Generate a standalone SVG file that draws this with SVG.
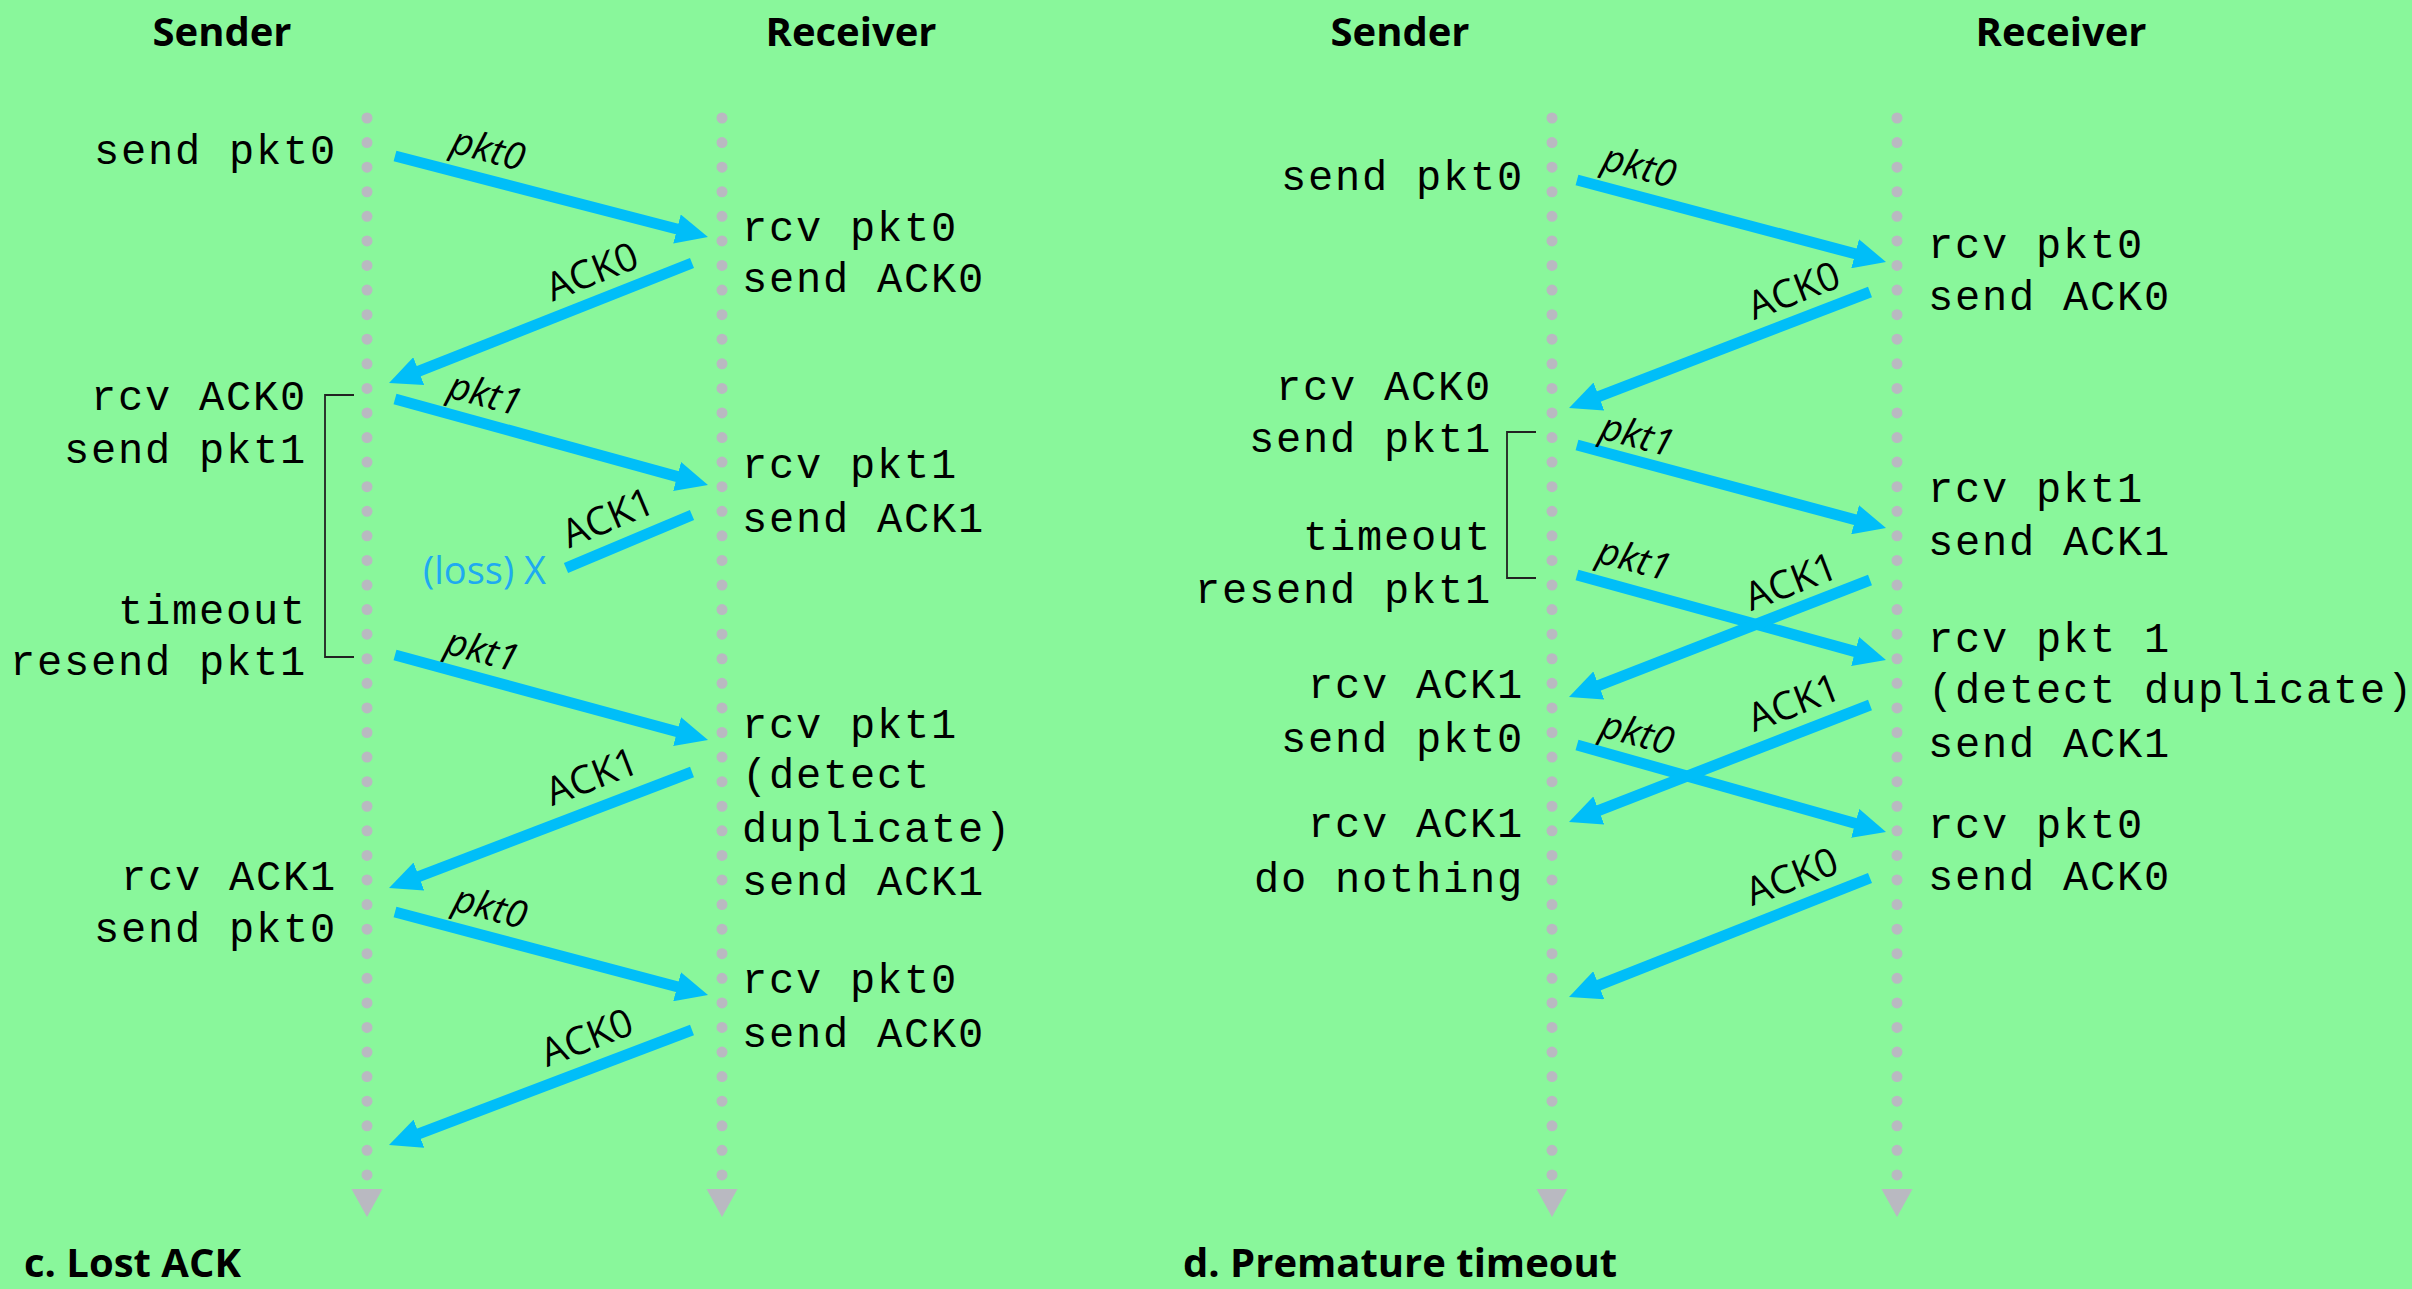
<svg xmlns="http://www.w3.org/2000/svg" width="2412" height="1289" viewBox="0 0 2412 1289">
<defs>
<style>
.bg{fill:#89f79b}
.life{stroke:#b9b9c1;stroke-width:11;stroke-linecap:round;stroke-dasharray:0 24.58;fill:none}
.lhead{fill:#b9b9c1}
.hdr{font-family:"Open Sans","Noto Sans",sans-serif;font-weight:bold;font-size:40px;fill:#000;text-anchor:middle}
.cap{font-family:"Open Sans","Noto Sans",sans-serif;font-weight:bold;font-size:40px;fill:#000}
.mono{font-family:"Liberation Mono","DejaVu Sans Mono",monospace;font-size:42px;letter-spacing:1.8px;fill:#000}
.end{text-anchor:end}
.msg{stroke:#00bef8;stroke-width:11;fill:none}
.pkt{font-family:"Open Sans","Noto Sans",sans-serif;font-style:italic;font-size:38px;fill:#000;text-anchor:middle}
.ack{font-family:"Open Sans","Noto Sans",sans-serif;font-size:39px;fill:#000;text-anchor:middle}
.loss{font-family:"Open Sans","Noto Sans",sans-serif;font-size:38px;fill:#1eaaf0}
.brk{stroke:#222;stroke-width:1.8;fill:none}
</style>
<marker id="ah" markerUnits="userSpaceOnUse" markerWidth="32" markerHeight="30" viewBox="0 0 32 30" refX="6" refY="15" orient="auto">
<path d="M0,0 L32,15 L0,30 Z" fill="#00bef8"/>
</marker>
</defs>
<rect class="bg" x="0" y="0" width="2412" height="1289"/>

<g id="lifelines">
<g id="c-sender-line"><line class="life" x1="367" y1="118" x2="367" y2="1176"/><path class="lhead" d="M351.5,1189 L382.5,1189 L367,1217 Z"/></g>
<g id="c-receiver-line"><line class="life" x1="722" y1="118" x2="722" y2="1176"/><path class="lhead" d="M706.5,1189 L737.5,1189 L722,1217 Z"/></g>
<g id="d-sender-line"><line class="life" x1="1552" y1="118" x2="1552" y2="1176"/><path class="lhead" d="M1536.5,1189 L1567.5,1189 L1552,1217 Z"/></g>
<g id="d-receiver-line"><line class="life" x1="1897" y1="118" x2="1897" y2="1176"/><path class="lhead" d="M1881.5,1189 L1912.5,1189 L1897,1217 Z"/></g>
</g>

<g id="headers">
<g id="c-sender-hdr"><text class="hdr" x="222" y="46">Sender</text></g>
<g id="c-receiver-hdr"><text class="hdr" x="851" y="46">Receiver</text></g>
<g id="d-sender-hdr"><text class="hdr" x="1400" y="46">Sender</text></g>
<g id="d-receiver-hdr"><text class="hdr" x="2061" y="46">Receiver</text></g>
</g>

<g id="c-sender-events">
<text class="mono end" x="337" y="164">send pkt0</text>
<text class="mono end" x="307" y="410">rcv ACK0</text>
<text class="mono end" x="307" y="463">send pkt1</text>
<text class="mono end" x="307" y="624">timeout</text>
<text class="mono end" x="307" y="675">resend pkt1</text>
<text class="mono end" x="337" y="890">rcv ACK1</text>
<text class="mono end" x="337" y="942">send pkt0</text>
</g>
<g id="c-timer-bracket"><path class="brk" d="M354,395 H325 V657 H354"/></g>

<g id="c-receiver-events">
<text class="mono" x="742" y="241">rcv pkt0</text>
<text class="mono" x="742" y="292">send ACK0</text>
<text class="mono" x="742" y="478">rcv pkt1</text>
<text class="mono" x="742" y="532">send ACK1</text>
<text class="mono" x="742" y="738">rcv pkt1</text>
<text class="mono" x="742" y="788">(detect</text>
<text class="mono" x="742" y="842">duplicate)</text>
<text class="mono" x="742" y="895">send ACK1</text>
<text class="mono" x="742" y="993">rcv pkt0</text>
<text class="mono" x="742" y="1047">send ACK0</text>
</g>

<g id="d-sender-events">
<text class="mono end" x="1524" y="190">send pkt0</text>
<text class="mono end" x="1492" y="400">rcv ACK0</text>
<text class="mono end" x="1492" y="452">send pkt1</text>
<text class="mono end" x="1492" y="550">timeout</text>
<text class="mono end" x="1492" y="603">resend pkt1</text>
<text class="mono end" x="1524" y="698">rcv ACK1</text>
<text class="mono end" x="1524" y="752">send pkt0</text>
<text class="mono end" x="1524" y="837">rcv ACK1</text>
<text class="mono end" x="1524" y="892">do nothing</text>
</g>
<g id="d-timer-bracket"><path class="brk" d="M1536,432 H1507 V578 H1536"/></g>

<g id="d-receiver-events">
<text class="mono" x="1928" y="258">rcv pkt0</text>
<text class="mono" x="1928" y="310">send ACK0</text>
<text class="mono" x="1928" y="502">rcv pkt1</text>
<text class="mono" x="1928" y="555">send ACK1</text>
<text class="mono" x="1928" y="652">rcv pkt 1</text>
<text class="mono" x="1928" y="703">(detect duplicate)</text>
<text class="mono" x="1928" y="757">send ACK1</text>
<text class="mono" x="1928" y="838">rcv pkt0</text>
<text class="mono" x="1928" y="890">send ACK0</text>
</g>

<g id="connectors">
<line class="msg" x1="395" y1="156" x2="682.8" y2="230.5" marker-end="url(#ah)"/>
<line class="msg" x1="692" y1="263" x2="413.2" y2="373.4" marker-end="url(#ah)"/>
<line class="msg" x1="395" y1="399" x2="682.9" y2="478.1" marker-end="url(#ah)"/>
<line class="msg" x1="692" y1="515" x2="566" y2="568"/>
<line class="msg" x1="395" y1="655" x2="682.9" y2="733.2" marker-end="url(#ah)"/>
<line class="msg" x1="692" y1="772" x2="413.3" y2="878.7" marker-end="url(#ah)"/>
<line class="msg" x1="395" y1="912" x2="682.9" y2="988.3" marker-end="url(#ah)"/>
<line class="msg" x1="692" y1="1030" x2="413.3" y2="1135.8" marker-end="url(#ah)"/>

<line class="msg" x1="1577" y1="180" x2="1860.9" y2="255.3" marker-end="url(#ah)"/>
<line class="msg" x1="1870" y1="292" x2="1593.3" y2="398.7" marker-end="url(#ah)"/>
<line class="msg" x1="1577" y1="445" x2="1860.9" y2="521.3" marker-end="url(#ah)"/>
<line class="msg" x1="1577" y1="575" x2="1860.9" y2="653.1" marker-end="url(#ah)"/>
<line class="msg" x1="1870" y1="580" x2="1593.2" y2="687.6" marker-end="url(#ah)"/>
<line class="msg" x1="1577" y1="745" x2="1861" y2="825" marker-end="url(#ah)"/>
<line class="msg" x1="1870" y1="705" x2="1593.2" y2="812.6" marker-end="url(#ah)"/>
<line class="msg" x1="1870" y1="878" x2="1593.2" y2="987.4" marker-end="url(#ah)"/>
</g>

<g id="message-labels">
<text class="pkt" transform="translate(488,150) rotate(15)" y="12">pkt0</text>
<text class="ack" transform="translate(592,272) rotate(-21.6)" y="13">ACK0</text>
<text class="pkt" transform="translate(485,395) rotate(15)" y="12">pkt1</text>
<text class="ack" transform="translate(608,518) rotate(-22.8)" y="13">ACK1</text>
<text class="pkt" transform="translate(482,651) rotate(15)" y="12">pkt1</text>
<text class="ack" transform="translate(592,777) rotate(-21)" y="13">ACK1</text>
<text class="pkt" transform="translate(490,908) rotate(15)" y="12">pkt0</text>
<text class="ack" transform="translate(587,1038) rotate(-21)" y="13">ACK0</text>

<text class="pkt" transform="translate(1639,167) rotate(15)" y="12">pkt0</text>
<text class="ack" transform="translate(1794,291) rotate(-21)" y="13">ACK0</text>
<text class="pkt" transform="translate(1637,436) rotate(15)" y="12">pkt1</text>
<text class="pkt" transform="translate(1634,560) rotate(15)" y="12">pkt1</text>
<text class="ack" transform="translate(1791,582) rotate(-21)" y="13">ACK1</text>
<text class="ack" transform="translate(1794,703) rotate(-21)" y="13">ACK1</text>
<text class="pkt" transform="translate(1637,734) rotate(15)" y="12">pkt0</text>
<text class="ack" transform="translate(1792,877) rotate(-21)" y="13">ACK0</text>
</g>

<g id="loss-mark"><text class="loss" x="423" y="584">(loss) X</text></g>

<g id="captions">
<text class="cap" x="24" y="1277">c. Lost ACK</text>
<text class="cap" x="1183" y="1277">d. Premature timeout</text>
</g>
</svg>
